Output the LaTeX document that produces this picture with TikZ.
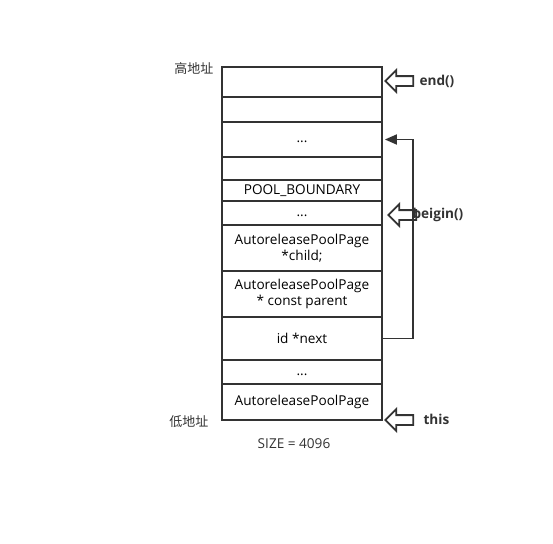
\documentclass[tikz,border=0pt]{standalone}
\usepackage{fontspec}
\setmainfont{Open Sans}
\newfontfamily\cjk{Noto Sans CJK SC}
\usetikzlibrary{shapes.arrows,arrows.meta}
\begin{document}
\begin{tikzpicture}[x=1pt, y=-1pt,
    cell/.style={draw=black!80, line width=1.8pt, rectangle, minimum width=160pt, inner sep=0pt, align=center, font=\fontsize{13.6}{16.5}\selectfont},
    hollow/.style={draw=black!80, line width=1.8pt, fill=white, single arrow, shape border rotate=180, minimum height=28pt, inner xsep=0pt, inner ysep=4pt, single arrow head extend=6pt, anchor=tip},
    tag/.style={font=\fontsize{13.6}{16}\selectfont\bfseries, text=black!80, anchor=west},
    addr/.style={font=\cjk\fontsize{13}{15}\selectfont, text=black!80, anchor=east}]
\useasboundingbox (0,0) rectangle (553,543);
\node[cell, minimum height=30pt] (top)  at (302,82)    {};
\node[cell, minimum height=25pt] (r2)   at (302,109.5) {};
\node[cell, minimum height=35pt] (dotsA) at (302,139.5) {\strut...};
\node[cell, minimum height=23pt] (r4)   at (302,168.5) {};
\node[cell, minimum height=21pt] (pool) at (302,190.5) {POOL\_BOUNDARY};
\node[cell, minimum height=24pt] (dotsB) at (302,213)  {\strut...};
\node[cell, minimum height=46pt] (child) at (302,248)  {AutoreleasePoolPage\\*child;};
\node[cell, minimum height=46pt] (parent) at (302,294) {AutoreleasePoolPage\\* const parent};
\node[cell, minimum height=43pt] (next) at (302,338.5) {id *next};
\node[cell, minimum height=24pt] (dotsC) at (302,372)  {\strut...};
\node[cell, minimum height=36pt] (page) at (302,402)   {AutoreleasePoolPage};

\node[addr] (high) at (217,69)  {高地址};
\node[addr] (low)  at (212,422) {低地址};
\node[font=\fontsize{13.6}{16}\selectfont, text=black!80] (size) at (294,444) {SIZE = 4096};

\node[hollow] (endarrow)   at (384,81)  {};
\node[hollow] (beginarrow) at (387,215) {};
\node[hollow] (thisarrow)  at (384,420) {};
\node[tag] (endtxt)   at (416,81)  {end()};
\node[tag] (begintxt) at (409,215) {beigin()};
\node[tag] (thistxt)  at (420,419) {this};

\draw[black!80, line width=1.8pt, -{Triangle[length=12pt,width=10pt]}] (next.east) -- ++(30,0) |- ([xshift=2pt]dotsA.east);
\end{tikzpicture}
\end{document}
